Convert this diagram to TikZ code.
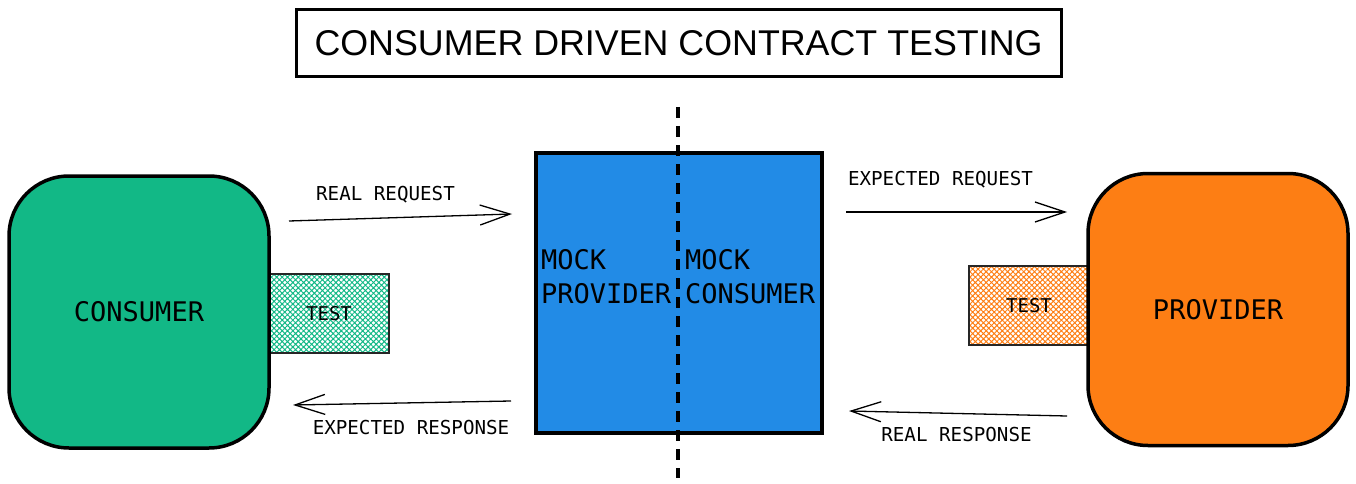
\documentclass[tikz,border=0pt]{standalone}
\usepackage{fontspec}
\setmainfont{Liberation Sans}
\newfontfamily\monof{DejaVu Sans Mono}
\usetikzlibrary{arrows.meta,patterns.meta}
\definecolor{cgreen}{HTML}{12B886}
\definecolor{cblue}{HTML}{228BE6}
\definecolor{corange}{HTML}{FD7E14}
\tikzset{
  mainbox/.style={draw, line width=3.5pt, rounded corners=60pt, minimum width=260pt, minimum height=272pt, inner sep=0pt, font=\monof\fontsize{27}{32}\selectfont},
  testbox/.style={draw=black!85, line width=1.3pt, minimum width=120pt, minimum height=79pt, inner sep=0pt, font=\monof\fontsize{19}{22}\selectfont, pattern={Hatch[angle=45,distance=3.8pt,line width=1pt]}},
  mocktext/.style={anchor=west, align=left, inner sep=0pt, font=\monof\fontsize{27}{34}\selectfont},
  lbl/.style={inner sep=0pt, font=\monof\fontsize{19.2}{22}\selectfont},
  flow/.style={line width=1.3pt, -{Straight Barb[length=30pt,width=20pt,line width=1.3pt]}},
}
\begin{document}
\begin{tikzpicture}[x=1pt,y=-1pt]
\useasboundingbox (0,0) rectangle (1356,484);
% title
\node[draw, line width=3pt, minimum width=765pt, minimum height=67pt, inner sep=0pt, font=\fontsize{35.8}{40}\selectfont] (title) at (678.5,43.5) {CONSUMER DRIVEN CONTRACT TESTING};
% test boxes
\node[testbox, pattern color=cgreen] (testc) at (329,313.5) {TEST};
\node[testbox, pattern color=corange] (testp) at (1029,305.5) {TEST};
% main boxes
\node[mainbox, fill=cgreen] (consumer) at (139,312) {CONSUMER};
\node[mainbox, fill=corange] (provider) at (1218,309.5) {PROVIDER};
% mock
\node[draw, line width=3.5pt, fill=cblue, minimum width=286pt, minimum height=280pt, inner sep=0pt] (mock) at (679,293) {};
\node[mocktext] (mp) at (541,277) {MOCK\\PROVIDER};
\node[mocktext] (mc) at (685,277) {MOCK\\CONSUMER};
% dashed divider
\coordinate (dtop) at (678,107);
\coordinate (dbot) at (678,478);
\draw[line width=4pt, dash pattern=on 11pt off 8pt] (dtop) -- (dbot);
% arrows
\coordinate (a1s) at (289,221);
\coordinate (a1e) at (512,214);
\coordinate (a2s) at (846,212);
\coordinate (a2e) at (1067,212);
\coordinate (a3s) at (511,401);
\coordinate (a3e) at (293,405);
\coordinate (a4s) at (1067,416);
\coordinate (a4e) at (849,411);
\draw[flow] (a1s) -- (a1e);
\draw[flow] (a2s) -- (a2e);
\draw[flow] (a3s) -- (a3e);
\draw[flow] (a4s) -- (a4e);
% labels
\node[lbl] (l1) at (385.5,195) {REAL REQUEST};
\node[lbl] (l2) at (940.5,179.5) {EXPECTED REQUEST};
\node[lbl] (l3) at (411,428) {EXPECTED RESPONSE};
\node[lbl] (l4) at (956.5,435) {REAL RESPONSE};
\end{tikzpicture}
\end{document}
